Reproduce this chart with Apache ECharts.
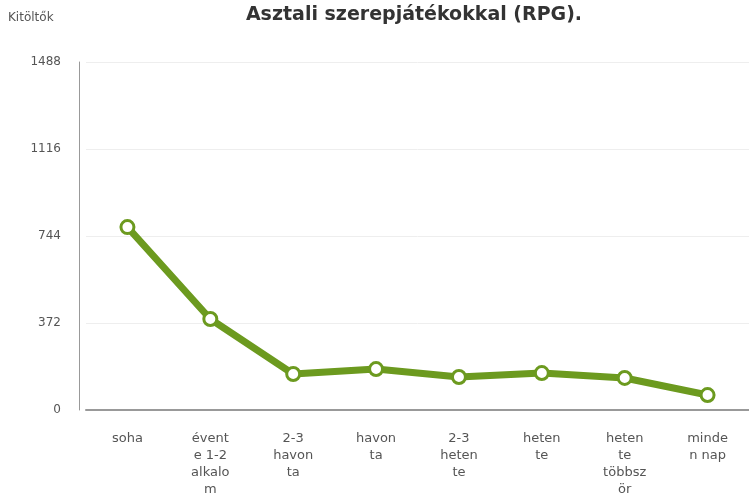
<!DOCTYPE html>
<html>
<head>
<meta charset="utf-8">
<script src="https://cdn.jsdelivr.net/npm/echarts@6/dist/echarts.min.js"></script>
<style>
html,body{margin:0;padding:0;background:#fff;}
#main{width:749px;height:499px;}
</style>
</head>
<body>
<div id="main"></div>
<script>
// adatok
var categories = ['soha', 'évente 1-2 alkalom', '2-3 havonta', 'havonta', '2-3 hetente', 'hetente', 'hetente többször', 'minden nap'];
var tickLabels = ['soha', 'évent\ne 1-2\nalkalo\nm', '2-3\nhavon\nta', 'havon\nta', '2-3\nheten\nte', 'heten\nte', 'heten\nte\ntöbbsz\nör', 'minde\nn nap'];
var kitoltok = [782, 389, 154, 175, 141, 158, 137, 64];
var yTicks = [0, 372, 744, 1116, 1488];

window.onload = function(){
	var myChart = echarts.init(document.getElementById('main'));
	var option = {
		animation: false,
		title: {
			text: 'Asztali szerepjátékokkal (RPG).',
			left: 409,
			textAlign: 'center',
			top: 1,
			textStyle: {
				fontFamily: 'DejaVu Sans',
				fontWeight: 'bold',
				fontSize: 19,
				color: '#333'
			}
		},
		grid: {
			left: 86,
			right: 0,
			top: 62,
			bottom: 89
		},
		xAxis: {
			type: 'category',
			data: categories,
			boundaryGap: true,
			axisTick: {show: false},
			axisLine: {lineStyle: {color: '#999', width: 2}},
			axisLabel: {
				interval: 0,
				margin: 20,
				fontFamily: 'DejaVu Sans',
				fontSize: 13,
				lineHeight: 17,
				color: '#555',
				formatter: function(v, i){ return tickLabels[i]; }
			}
		},
		yAxis: {
			type: 'value',
			min: yTicks[0],
			max: yTicks[yTicks.length - 1],
			interval: yTicks[1] - yTicks[0],
			offset: 7,
			name: 'Kitöltők',
			nameLocation: 'end',
			nameGap: 38,
			nameTextStyle: {
				fontFamily: 'DejaVu Sans',
				fontSize: 12,
				color: '#555',
				align: 'left',
				padding: [0, 0, 0, -71]
			},
			axisLine: {show: true, lineStyle: {color: '#999', width: 1}},
			axisTick: {show: false},
			axisLabel: {
				margin: 18,
				fontFamily: 'DejaVu Sans',
				fontSize: 12,
				color: '#555',
				formatter: function(v){ return String(v); }
			},
			splitLine: {lineStyle: {color: '#eee', width: 1}}
		},
		series: [{
			name: 'Kitöltők',
			type: 'line',
			data: kitoltok,
			symbol: 'circle',
			symbolSize: 13,
			lineStyle: {color: '#6c9a1f', width: 7},
			itemStyle: {color: '#fff', borderColor: '#6c9a1f', borderWidth: 3}
		}]
	};
	myChart.setOption(option);
};
</script>
</body>
</html>
